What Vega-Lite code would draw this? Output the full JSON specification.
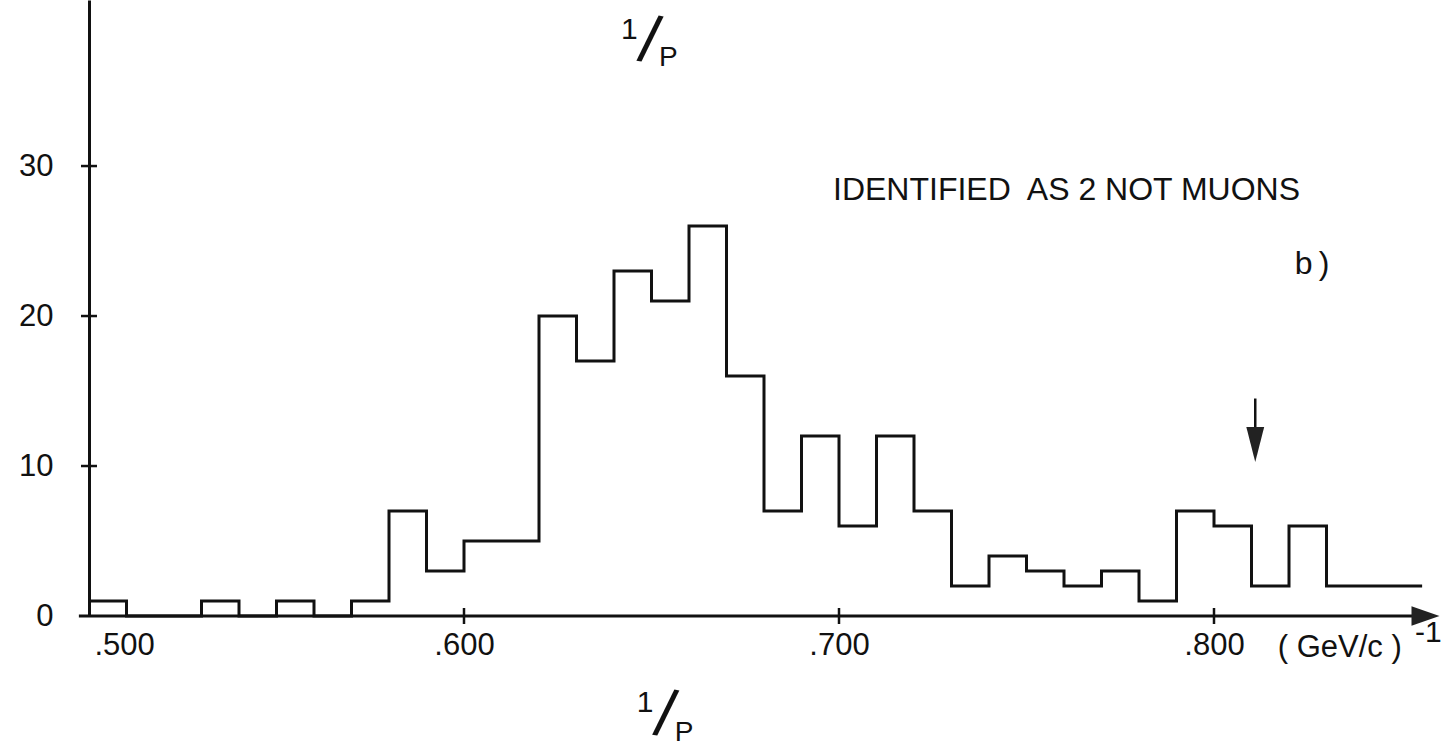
{
  "$schema": "https://vega.github.io/schema/vega-lite/v6.json",
  "width": 1365,
  "height": 616,
  "autosize": {"type": "none"},
  "padding": {"left": 89, "top": 0, "right": 0, "bottom": 140},
  "background": "white",
  "config": {
    "view": {"stroke": null},
    "font": "Liberation Sans",
    "text": {"font": "Liberation Sans", "color": "#111"}
  },
  "datasets": {
    "hist": [
      {"p": 0.500, "n": 1}, {"p": 0.510, "n": 0}, {"p": 0.520, "n": 0}, {"p": 0.530, "n": 1},
      {"p": 0.540, "n": 0}, {"p": 0.550, "n": 1}, {"p": 0.560, "n": 0}, {"p": 0.570, "n": 1},
      {"p": 0.580, "n": 7}, {"p": 0.590, "n": 3}, {"p": 0.600, "n": 5}, {"p": 0.610, "n": 5},
      {"p": 0.620, "n": 20}, {"p": 0.630, "n": 17}, {"p": 0.640, "n": 23}, {"p": 0.650, "n": 21},
      {"p": 0.660, "n": 26}, {"p": 0.670, "n": 16}, {"p": 0.680, "n": 7}, {"p": 0.690, "n": 12},
      {"p": 0.700, "n": 6}, {"p": 0.710, "n": 12}, {"p": 0.720, "n": 7}, {"p": 0.730, "n": 2},
      {"p": 0.740, "n": 4}, {"p": 0.750, "n": 3}, {"p": 0.760, "n": 2}, {"p": 0.770, "n": 3},
      {"p": 0.780, "n": 1}, {"p": 0.790, "n": 7}, {"p": 0.800, "n": 6}, {"p": 0.810, "n": 2},
      {"p": 0.820, "n": 6}, {"p": 0.830, "n": 2}, {"p": 0.840, "n": 2}, {"p": 0.850, "n": 2},
      {"p": 0.8555, "n": 2}
    ],
    "xticks": [{"v": 0.6}, {"v": 0.7}, {"v": 0.8}],
    "yticks": [{"v": 10}, {"v": 20}, {"v": 30}]
  },
  "layer": [
    {
      "data": {"name": "hist"},
      "mark": {"type": "line", "interpolate": "step-after", "stroke": "#111", "strokeWidth": 3},
      "encoding": {
        "x": {
          "field": "p", "type": "quantitative",
          "scale": {"domain": [0.5, 0.864], "nice": false, "zero": false},
          "axis": {
            "values": [0.5, 0.6, 0.7, 0.8],
            "labelExpr": "replace(format(datum.value, '.3f'), '0.', '.')",
            "domain": false, "ticks": false, "grid": false, "title": null,
            "labelFont": "Liberation Sans", "labelFontSize": 31, "labelColor": "#111",
            "labelPadding": 14, "labelFlush": true, "labelFlushOffset": -5
          }
        },
        "y": {
          "field": "n", "type": "quantitative",
          "scale": {"domain": [0, 41.07], "nice": false, "zero": true},
          "axis": {
            "values": [0, 10, 20, 30],
            "domain": true, "domainColor": "#111", "domainWidth": 3,
            "ticks": false, "grid": false, "title": null,
            "labelFont": "Liberation Sans", "labelFontSize": 31, "labelColor": "#111",
            "labelPadding": 36
          }
        }
      }
    },
    {
      "data": {"values": [{}]},
      "mark": {"type": "rule", "stroke": "#111", "strokeWidth": 3},
      "encoding": {
        "x": {"datum": 0.4973, "type": "quantitative"},
        "x2": {"datum": 0.856},
        "y": {"datum": 0, "type": "quantitative"}
      }
    },
    {
      "data": {"values": [{}]},
      "mark": {"type": "point", "shape": "M-1,-0.7L1,0L-1,0.7Z", "size": 784, "filled": true, "fill": "#222", "opacity": 1},
      "encoding": {
        "x": {"datum": 0.8564, "type": "quantitative"},
        "y": {"datum": 0, "type": "quantitative"}
      }
    },
    {
      "data": {"name": "xticks"},
      "mark": {"type": "tick", "orient": "vertical", "size": 16, "thickness": 2.5, "color": "#111", "opacity": 1},
      "encoding": {
        "x": {"field": "v", "type": "quantitative"},
        "y": {"datum": 0, "type": "quantitative"}
      }
    },
    {
      "data": {"name": "yticks"},
      "mark": {"type": "tick", "orient": "horizontal", "size": 16, "thickness": 2.5, "color": "#111", "opacity": 1},
      "encoding": {
        "y": {"field": "v", "type": "quantitative"},
        "x": {"datum": 0.5, "type": "quantitative"}
      }
    },
    {
      "data": {"values": [{}]},
      "mark": {"type": "rule", "stroke": "#111", "strokeWidth": 2.5},
      "encoding": {
        "x": {"datum": 0.811, "type": "quantitative"},
        "y": {"datum": 14.5, "type": "quantitative"},
        "y2": {"datum": 11.8}
      }
    },
    {
      "data": {"values": [{}]},
      "mark": {"type": "point", "shape": "M-0.51,-1L0.51,-1L0,1Z", "size": 1225, "filled": true, "fill": "#222", "opacity": 1},
      "encoding": {
        "x": {"datum": 0.811, "type": "quantitative"},
        "y": {"datum": 11.43, "type": "quantitative"}
      }
    },
    {
      "data": {"values": [{}]},
      "mark": {"type": "text", "text": "IDENTIFIED\u00a0 AS 2 NOT MUONS", "fontSize": 32, "align": "left", "baseline": "middle"},
      "encoding": {
        "x": {"datum": 0.6984, "type": "quantitative"},
        "y": {"datum": 28.4, "type": "quantitative"}
      }
    },
    {
      "data": {"values": [{}]},
      "mark": {"type": "text", "text": "b\u2009)", "fontSize": 32, "align": "left", "baseline": "middle"},
      "encoding": {
        "x": {"datum": 0.8215, "type": "quantitative"},
        "y": {"datum": 23.45, "type": "quantitative"}
      }
    },
    {
      "data": {"values": [{}]},
      "mark": {"type": "text", "text": "( GeV/c )", "fontSize": 31, "align": "left", "baseline": "middle"},
      "encoding": {
        "x": {"datum": 0.817, "type": "quantitative"},
        "y": {"datum": -2.13, "type": "quantitative"}
      }
    },
    {
      "data": {"values": [{}]},
      "mark": {"type": "text", "text": "-1", "fontSize": 30, "align": "left", "baseline": "middle"},
      "encoding": {
        "x": {"datum": 0.8536, "type": "quantitative"},
        "y": {"datum": -1.13, "type": "quantitative"}
      }
    },
    {
      "data": {"values": [{}]},
      "mark": {"type": "text", "text": "1", "fontSize": 30, "align": "center", "baseline": "middle"},
      "encoding": {
        "x": {"datum": 0.6441, "type": "quantitative"},
        "y": {"datum": 39.1, "type": "quantitative"}
      }
    },
    {
      "data": {"values": [{}]},
      "mark": {"type": "text", "text": "/", "fontSize": 66, "align": "center", "baseline": "middle", "angle": 11},
      "encoding": {
        "x": {"datum": 0.6494, "type": "quantitative"},
        "y": {"datum": 38.27, "type": "quantitative"}
      }
    },
    {
      "data": {"values": [{}]},
      "mark": {"type": "text", "text": "P", "fontSize": 28, "align": "center", "baseline": "middle"},
      "encoding": {
        "x": {"datum": 0.6545, "type": "quantitative"},
        "y": {"datum": 37.2, "type": "quantitative"}
      }
    },
    {
      "data": {"values": [{}]},
      "mark": {"type": "text", "text": "1", "fontSize": 30, "align": "center", "baseline": "middle"},
      "encoding": {
        "x": {"datum": 0.6483, "type": "quantitative"},
        "y": {"datum": -5.8, "type": "quantitative"}
      }
    },
    {
      "data": {"values": [{}]},
      "mark": {"type": "text", "text": "/", "fontSize": 66, "align": "center", "baseline": "middle", "angle": 11},
      "encoding": {
        "x": {"datum": 0.6536, "type": "quantitative"},
        "y": {"datum": -6.67, "type": "quantitative"}
      }
    },
    {
      "data": {"values": [{}]},
      "mark": {"type": "text", "text": "P", "fontSize": 28, "align": "center", "baseline": "middle"},
      "encoding": {
        "x": {"datum": 0.6587, "type": "quantitative"},
        "y": {"datum": -7.8, "type": "quantitative"}
      }
    }
  ]
}
